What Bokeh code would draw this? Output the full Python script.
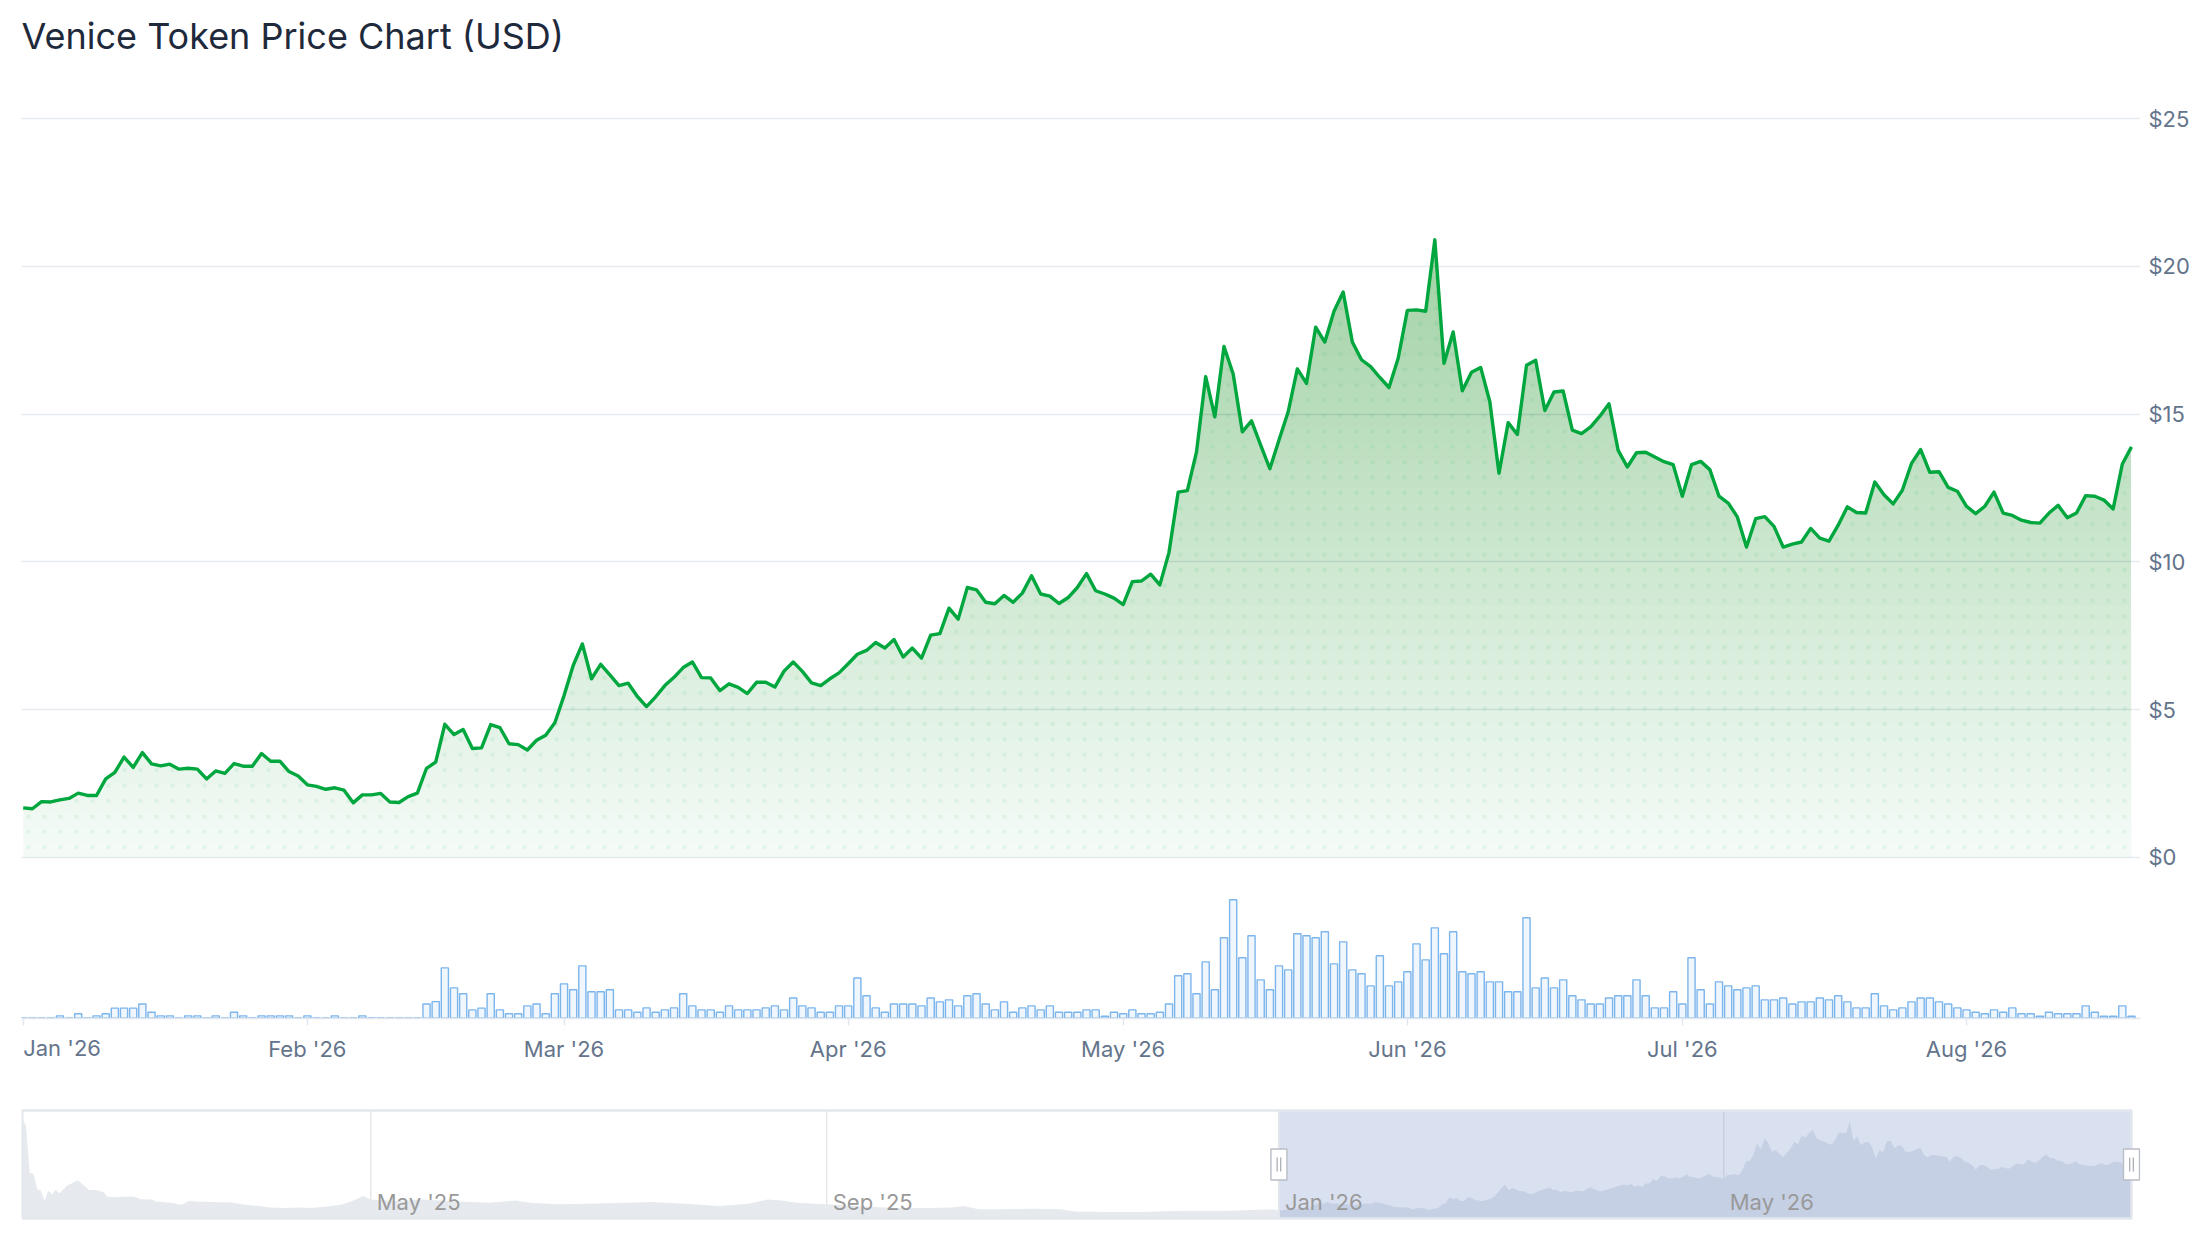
import numpy as np
import pandas as pd
from bokeh.plotting import figure
from bokeh.layouts import column
from bokeh.models import Range1d, FixedTicker, Label
from bokeh.embed import file_html
from bokeh.resources import INLINE
from bokeh.core.properties import value

# ---------------- data ----------------
price = [
    1.67, 1.64, 1.88, 1.87, 1.94, 1.99, 2.17, 2.09, 2.09, 2.65,
    2.87, 3.39, 3.04, 3.54, 3.16, 3.09, 3.15, 2.98, 3.01, 2.98,
    2.65, 2.92, 2.84, 3.17, 3.08, 3.08, 3.51, 3.25, 3.25, 2.90,
    2.75, 2.45, 2.40, 2.30, 2.35, 2.27, 1.84, 2.11, 2.11, 2.16,
    1.87, 1.85, 2.05, 2.17, 3.01, 3.22, 4.50, 4.15, 4.32, 3.68,
    3.70, 4.49, 4.39, 3.84, 3.81, 3.63, 3.96, 4.13, 4.55,
    5.47, 6.49, 7.22, 6.04, 6.53, 6.17, 5.81, 5.89, 5.44, 5.10,
    5.43, 5.81, 6.09, 6.42, 6.61, 6.08, 6.07, 5.64, 5.87, 5.75,
    5.54, 5.92, 5.92, 5.76, 6.30, 6.61, 6.29, 5.90, 5.81, 6.04,
    6.24, 6.55, 6.87, 7.00, 7.27, 7.08, 7.37, 6.78, 7.08, 6.74,
    7.52, 7.57, 8.43, 8.06, 9.13, 9.05, 8.63, 8.58, 8.86, 8.63,
    8.94, 9.53, 8.91, 8.84, 8.59, 8.79, 9.13, 9.60, 9.02, 8.91,
    8.77, 8.55,
    9.33, 9.35, 9.58, 9.22, 10.32, 12.36, 12.41, 13.72, 16.27, 14.91,
    17.29, 16.36, 14.40, 14.77, 13.95, 13.15, 14.12, 15.08, 16.53, 16.04,
    17.94, 17.44, 18.48, 19.13, 17.44, 16.84, 16.61, 16.24, 15.90, 16.89,
    18.51, 18.53, 18.48, 20.90, 16.72, 17.78, 15.79, 16.42, 16.58, 15.42,
    13.00, 14.71, 14.31, 16.65, 16.82,
    15.12, 15.75, 15.78, 14.46, 14.34, 14.57, 14.93, 15.35, 13.77, 13.21,
    13.69, 13.71, 13.55, 13.39, 13.29, 12.22, 13.29, 13.40, 13.12, 12.22,
    11.99, 11.52, 10.50, 11.46, 11.53, 11.20, 10.50, 10.60, 10.67, 11.13,
    10.80, 10.70, 11.24, 11.86, 11.67, 11.65, 12.70, 12.27, 11.96, 12.42,
    13.33, 13.80, 13.03, 13.05, 12.52, 12.39, 11.88, 11.63, 11.88, 12.36,
    11.65, 11.57, 11.41, 11.33, 11.31, 11.65, 11.91, 11.49, 11.65, 12.24,
    12.22, 12.09, 11.79, 13.31, 13.89,
]

volume = [
    0.3, 0.3, 0.3, 0.3, 2, 0.3, 3.7, 0.3, 2, 3.7,
    8.5, 8.5, 8.5, 12, 5, 2, 2, 0.3, 2, 2,
    0.3, 2, 0.3, 5, 2, 0.3, 2, 2, 2, 2,
    0.3, 2, 0.3, 0.3, 2, 0.3, 0.3, 2, 0.3, 0.3,
    0.3, 0.3, 0.3, 0.3, 12, 14, 42.5, 25.6, 20.6, 7,
    8.5, 20.6, 7, 3.7, 3.7, 10.4, 12, 3.7, 20.6, 29,
    24, 44.2, 22.3, 22.3, 24, 7, 7, 5, 8.7, 5,
    7, 8.7, 20.6, 10.4, 7, 7, 5, 10.4, 7, 7,
    7, 8.7, 10.4, 7, 17, 10.4, 8.7, 5, 5, 10.4,
    10.4, 34, 18.9, 8.7, 5, 12, 12, 12, 10.4, 17,
    13.8, 15.5, 10.4, 18.9, 20.6, 12, 7, 13.8, 5, 8.7,
    10.4, 7, 10.4, 5, 5,
    5, 7, 7, 1.7, 5, 3.7, 7, 3.7, 3.7, 5,
    12, 35.8, 37.5, 20.6, 47.6, 24, 67.9, 100, 51, 69.6,
    32.4, 24, 44.2, 40.8, 71.3, 69.6, 67.9, 73, 45.9, 64.5,
    40.8, 37.5, 27.3, 52.7, 27.3, 30.7, 39.2, 62.8, 49.3, 76.3,
    54.4, 73, 39.2, 37.5, 39.2, 30.7, 30.7, 22.3, 22.3, 84.8,
    25.6, 34, 25.6, 32.4, 18.9, 15.5, 12, 12, 17, 18.9,
    18.9, 32.4, 18.9, 8.7, 8.7, 22.3, 12, 51, 24, 12,
    30.7, 27.3, 24, 25.6, 27.3, 15.5, 15.5, 17, 12, 13.8,
    13.8, 17, 15.5, 18.9, 13.8, 8.7, 8.7, 20.6, 10.4, 7,
    8.7, 13.8, 17, 17, 13.8, 12, 8.7, 7, 5, 3.7,
    7, 5, 8.7, 3.7, 3.7, 1.7, 5, 3.7, 3.7, 3.7,
    10.4, 5, 1.7, 1.7, 10.4, 1.7,
]

start_date = "2026-01-01"
dates = pd.date_range(start_date, periods=len(price), freq="D")

month_ticks = ["2026-01-01", "2026-02-01", "2026-03-01", "2026-04-01",
               "2026-05-01", "2026-06-01", "2026-07-01", "2026-08-01"]
month_labels = ["Jan '26", "Feb '26", "Mar '26", "Apr '26",
                "May '26", "Jun '26", "Jul '26", "Aug '26"]
price_ticks = [0, 5, 10, 15, 20, 25]

nav_hist_dates = [
    "2025-01-27", "2025-01-28", "2025-01-29", "2025-01-30", "2025-01-31",
    "2025-02-01", "2025-02-02", "2025-02-03", "2025-02-04", "2025-02-05",
    "2025-02-06", "2025-02-08", "2025-02-11", "2025-02-13", "2025-02-14",
    "2025-02-16", "2025-02-18", "2025-02-19", "2025-02-21", "2025-02-23",
    "2025-02-26", "2025-02-28", "2025-03-03", "2025-03-04", "2025-03-08",
    "2025-03-11", "2025-03-13", "2025-03-15", "2025-03-21", "2025-03-24",
    "2025-03-28", "2025-04-01", "2025-04-04", "2025-04-08", "2025-04-12",
    "2025-04-15", "2025-04-19", "2025-04-23", "2025-04-26", "2025-04-29",
    "2025-05-01", "2025-05-08", "2025-05-15", "2025-05-22", "2025-06-02",
    "2025-06-09", "2025-06-13", "2025-06-20", "2025-06-29", "2025-07-09",
    "2025-07-16", "2025-07-20", "2025-07-27", "2025-08-03", "2025-08-11",
    "2025-08-16", "2025-08-20", "2025-08-24", "2025-09-01", "2025-09-11",
    "2025-09-20", "2025-09-29", "2025-10-05", "2025-10-08", "2025-10-12",
    "2025-10-18", "2025-10-27", "2025-11-03", "2025-11-07", "2025-11-16",
    "2025-11-25", "2025-12-04", "2025-12-19", "2025-12-30",
]
nav_hist_values = [
    21.5, 20.0, 9.8, 9.6, 6.3, 5.9, 3.7, 5.9, 5.1, 6.2,
    5.3, 7.0, 8.2, 6.8, 6.1, 6.1, 5.6, 4.6, 4.5, 4.6,
    4.7, 4.1, 4.0, 3.6, 3.3, 2.9, 3.7, 3.6, 3.4, 3.4,
    2.9, 2.6, 2.3, 2.2, 2.3, 2.2, 2.5, 2.9, 3.7, 4.8,
    4.0, 3.7, 4.0, 3.7, 3.3, 3.8, 3.3, 3.0, 3.1, 3.3,
    3.5, 3.3, 3.0, 2.6, 3.1, 4.0, 3.8, 3.3, 3.0, 2.5,
    2.2, 2.2, 2.3, 2.6, 1.9, 1.9, 2.0, 1.9, 1.4, 1.3,
    1.3, 1.5, 1.6, 1.9,
]
nav_tick_dates = ["2025-05-01", "2025-09-01", "2026-01-01", "2026-05-01"]
nav_tick_labels = ["May '25", "Sep '25", "Jan '26", "May '26"]

# ---------------- styling / geometry ----------------
DAY = 86400000.0
GREEN = "#00a63e"
AXIS_TEXT = "#64748b"
GRID = "#e8ecf1"
FONT = "Inter"


def ms(d):
    return pd.Timestamp(d).value / 1e6


W = 2200
H1, H2 = 1095, 145
# frames in page pixels (both stacked plots share the same left/right borders)
F_L, F_R, F_T, F_B = 21, 2140, 68, 1018
X0_PX, PX_PER_DAY = 22.7, 9.1665
PX_ZERO, PX_PER_USD = 856.7, 29.54
VOL_BASE, PX_PER_VOL = 1017.7, 1.184

x_ms = np.array([ms(d) for d in dates])
p_arr = np.array(price, dtype=float)
days_idx = np.arange(len(price), dtype=float)

x_start = x_ms[0] - (X0_PX - F_L) / PX_PER_DAY * DAY
x_end = x_ms[0] + (F_R - X0_PX) / PX_PER_DAY * DAY
y_start = -(F_B - PX_ZERO) / PX_PER_USD
y_end = (PX_ZERO - F_T) / PX_PER_USD

p = figure(width=W, height=H1, x_axis_type="datetime", y_axis_location="right",
           x_range=Range1d(x_start, x_end), y_range=Range1d(y_start, y_end),
           output_backend="svg", toolbar_location=None,
           min_border_left=F_L, min_border_right=W - F_R,
           min_border_top=F_T, min_border_bottom=H1 - F_B)
p.outline_line_color = None
p.background_fill_color = "white"
p.border_fill_color = "white"

p.title.text = "Venice Token Price Chart (USD)"
p.title.text_font = FONT
p.title.text_font_size = "36px"
p.title.text_font_style = "normal"
p.title.text_color = "#1e293b"
p.title.align = "left"
p.title.vertical_align = "middle"
p.title.standoff = 20

# grid
p.xgrid.visible = False
p.ygrid.ticker = FixedTicker(ticks=price_ticks)
p.ygrid.grid_line_color = GRID
p.ygrid.grid_line_width = 1.4

# price axis (right)
ya = p.yaxis[0]
ya.ticker = FixedTicker(ticks=price_ticks)
ya.major_label_overrides = {t: f"${t}" for t in price_ticks}
ya.axis_line_color = None
ya.major_tick_line_color = None
ya.minor_tick_line_color = None
ya.major_tick_out = 0
ya.major_tick_in = 0
ya.major_label_standoff = 8
ya.major_label_text_font = FONT
ya.major_label_text_font_size = "22px"
ya.major_label_text_color = AXIS_TEXT

# date axis
xa = p.xaxis[0]
tick_ms = [ms(d) for d in month_ticks]
xa.ticker = FixedTicker(ticks=tick_ms)
xa.major_label_overrides = {t: (lab if i > 0 else "") for i, (t, lab) in enumerate(zip(tick_ms, month_labels))}
xa.axis_line_color = "#e3e7ed"
xa.axis_line_width = 1.4
xa.major_tick_line_color = "#e3e7ed"
xa.major_tick_line_width = 1.4
xa.major_tick_out = 7
xa.major_tick_in = 0
xa.minor_tick_line_color = None
xa.major_label_standoff = 10
xa.major_label_text_font = FONT
xa.major_label_text_font_size = "22px"
xa.major_label_text_color = AXIS_TEXT

# first month label is pushed inside the plot edge (left aligned), placed in the
# bottom panel so that it is not clipped by the frame
p.add_layout(Label(x=tick_ms[0], y=-(1047.6 - PX_ZERO) / PX_PER_USD, text=month_labels[0],
                   text_align="left", text_baseline="middle", text_font=FONT,
                   text_font_size="22px", text_color=AXIS_TEXT), "below")

# volume bars
p.extra_y_ranges = {"vol": Range1d(-(F_B - VOL_BASE) / PX_PER_VOL, (VOL_BASE - F_T) / PX_PER_VOL)}
p.vbar(x=x_ms, top=volume, bottom=0, width=0.78 * DAY, y_range_name="vol",
       fill_color="#7cb5ec", fill_alpha=0.12, line_color="#7cb5ec", line_width=1.4)

# gradient fill under the price line (stacked translucent layers)
levels = np.arange(0, 21.5, 0.5)


def cover(v):
    return 0.04 + 0.0115 * v


prev = 0.0
for a in levels:
    target = cover(a + 0.25)
    alpha = 1 - (1 - target) / (1 - prev)
    prev = target
    p.varea(x=x_ms, y1=np.minimum(p_arr, a), y2=p_arr, fill_color=GREEN, fill_alpha=alpha)

# dotted pattern inside the area
col_days = np.arange((28 - X0_PX) / PX_PER_DAY, days_idx[-1], 16 / PX_PER_DAY)
row_vals = np.arange((PX_ZERO - 846.7) / PX_PER_USD, 22, 15.4 / PX_PER_USD)
dx, dy = [], []
for cd in col_days:
    lim = np.interp(cd, days_idx, p_arr) - 0.12
    for rv in row_vals:
        if rv < lim:
            dx.append(x_ms[0] + cd * DAY)
            dy.append(rv)
p.scatter(x=dx, y=dy, size=4.5, marker="circle", fill_color=GREEN, fill_alpha=0.07, line_color=None)

# price line
p.line(x=x_ms, y=p_arr, line_color=GREEN, line_width=3.4, line_join="round")

# ---------------- navigator ----------------
N_TOP_PAGE = H1
NF_T, NF_B = 1100, 1228
NAV_X0, NAV_X1 = 21.8, 2131.0
NAV_ZERO, NAV_PPV = 1217.5, 4.6
OUT_T, OUT_B = 1110, 1218
NAV_LABEL_Y = 1201.5

nav_x = np.array([ms(d) for d in nav_hist_dates] + list(x_ms))
nav_v = np.array(nav_hist_values + price, dtype=float)
nav_days = (nav_x[-1] - nav_x[0]) / DAY
nav_ppd = (NAV_X1 - NAV_X0) / nav_days

n = figure(width=W, height=H2, x_axis_location=None, y_axis_location=None,
           x_range=Range1d(nav_x[0] - (NAV_X0 - F_L) / nav_ppd * DAY,
                           nav_x[-1] + (F_R - NAV_X1) / nav_ppd * DAY),
           y_range=Range1d(-(NF_B - NAV_ZERO) / NAV_PPV, (NAV_ZERO - NF_T) / NAV_PPV),
           output_backend="svg", toolbar_location=None,
           min_border_left=F_L, min_border_right=W - F_R,
           min_border_top=NF_T - N_TOP_PAGE, min_border_bottom=N_TOP_PAGE + H2 - NF_B)
n.outline_line_color = None
n.grid.visible = False
n.background_fill_color = "white"
n.border_fill_color = "white"

v_top = (NAV_ZERO - OUT_T) / NAV_PPV
v_bot = (NAV_ZERO - OUT_B) / NAV_PPV
v_lab = (NAV_ZERO - NAV_LABEL_Y) / NAV_PPV
ntick = [ms(d) for d in nav_tick_dates]
sel_start = x_ms[0]
sel_end = x_ms[-1]

n.segment(x0=ntick, y0=[v_bot] * len(ntick), x1=ntick, y1=[v_top] * len(ntick),
          line_color="#e6e6e6", line_width=1.4)
n.varea(x=nav_x, y1=0, y2=nav_v, fill_color="#e6eaef", fill_alpha=1.0)
n.quad(left=[sel_start], right=[sel_end], bottom=[v_bot], top=[v_top],
       fill_color="#6685c2", fill_alpha=0.25, line_color=None)
n.quad(left=[nav_x[0]], right=[nav_x[-1]], bottom=[v_bot], top=[v_top],
       fill_color=None, line_color="#e3e7ed", line_width=2.5)
n.segment(x0=[sel_start], y0=[v_bot], x1=[sel_start], y1=[v_top], line_color="#e3e7ed", line_width=2)
n.text(x=ntick, y=[v_lab] * len(ntick), text=nav_tick_labels, x_offset=6,
       text_align="left", text_baseline="middle", text_font=value(FONT),
       text_font_size="22px", text_color="#999999")
v_mid = (v_top + v_bot) / 2
handles = [sel_start, sel_end]
n.rect(x=handles, y=[v_mid] * 2, width=16, height=31, width_units="screen", height_units="screen",
       fill_color="white", line_color="#b9bec6", line_width=1.4)
g_off = 1.8 / nav_ppd * DAY
grips = [h + s * g_off for h in handles for s in (-1, 1)]
n.rect(x=grips, y=[v_mid] * 4, width=1.2, height=14, width_units="screen", height_units="screen",
       fill_color="#a4a9b1", line_color=None)

layout = column(p, n)
open("out.html", "w").write(file_html(layout, INLINE))
